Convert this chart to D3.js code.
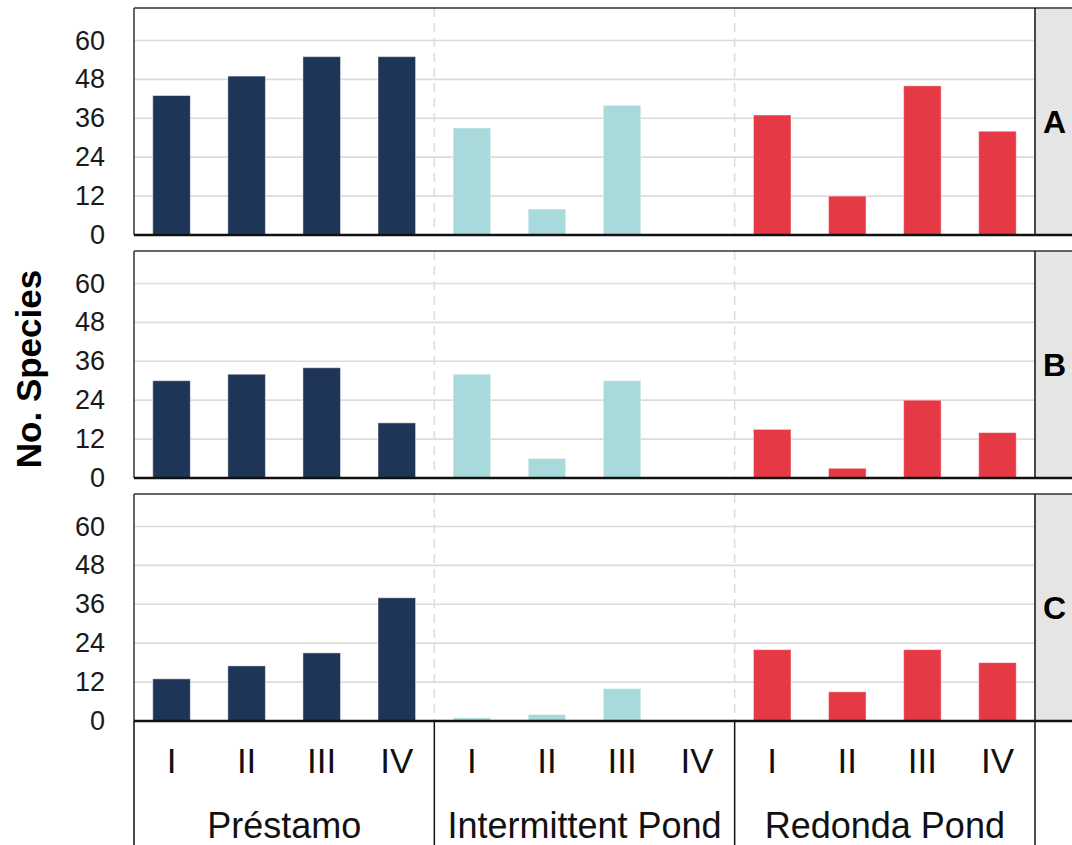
<!DOCTYPE html>
<html>
<head>
<meta charset="utf-8">
<script src="https://cdn.jsdelivr.net/npm/d3@7"></script>
<style>
  body { margin: 0; background: #fff; }
  svg { display: block; }
</style>
</head>
<body>
<div id="chart"></div>
<script>
// data
var sites = ["Préstamo", "Intermittent Pond", "Redonda Pond"];
var periods = ["I", "II", "III", "IV"];
var panels = ["A", "B", "C"];
var yTicks = [0, 12, 24, 36, 48, 60];

var valuesA = [43, 49, 55, 55, 33, 8, 40, 0, 37, 12, 46, 32];
var valuesB = [30, 32, 34, 17, 32, 6, 30, 0, 15, 3, 24, 14];
var valuesC = [13, 17, 21, 38, 1, 2, 10, 0, 22, 9, 22, 18];
var siteColors = ["#1f3557", "#a8dadc", "#e63946"];

var panelValues = [valuesA, valuesB, valuesC];

var W = 1072, H = 845;
var left = 134, right = 1035, stripW = 50;
var panelTop = [8, 251, 494];
var panelH = 227;
var font = "Liberation Sans, Arial, sans-serif";

var svg = d3.select("#chart").append("svg")
    .attr("width", W).attr("height", H);

// one key per bar
var keys = [];
sites.forEach(function(s, i){
    periods.forEach(function(p){ keys.push(i + "-" + p); });
});

var x = d3.scaleBand().domain(keys).range([left, right])
    .paddingInner(0.5).paddingOuter(0.25);
var step = x.step();

var groupEdges = [left, left + 4 * step, left + 8 * step, right];

panels.forEach(function(label, pi){
    var top = panelTop[pi], base = top + panelH;
    var y = d3.scaleLinear().domain([0, 70]).range([base, top]);
    var g = svg.append("g");

    // strip
    g.append("rect").attr("x", right).attr("y", top)
        .attr("width", stripW).attr("height", panelH)
        .attr("fill", "#e5e5e5");

    // grid
    g.selectAll(".grid").data(yTicks.slice(1)).enter().append("line")
        .attr("x1", left).attr("x2", right)
        .attr("y1", function(d){ return y(d); })
        .attr("y2", function(d){ return y(d); })
        .attr("stroke", "#dcdcdc").attr("stroke-width", 1.6);

    // dashed separators between sites
    g.selectAll(".sep").data([groupEdges[1], groupEdges[2]]).enter().append("line")
        .attr("x1", function(d){ return d; }).attr("x2", function(d){ return d; })
        .attr("y1", top).attr("y2", base)
        .attr("stroke", "#dddddd").attr("stroke-width", 1.5)
        .attr("stroke-dasharray", "9,6");

    // bars
    var vals = panelValues[pi];
    g.selectAll(".bar").data(vals).enter().append("rect")
        .attr("x", function(d, i){ return x(keys[i]); })
        .attr("width", x.bandwidth())
        .attr("y", function(d){ return y(d); })
        .attr("height", function(d){ return y(0) - y(d); })
        .attr("fill", function(d, i){ return siteColors[Math.floor(i / 4)]; })
        .attr("stroke", "rgba(255,255,255,0.45)").attr("stroke-width", 1);

    // y axis labels
    var yAxis = d3.axisLeft(y).tickValues(yTicks).tickSize(0).tickPadding(29);
    var ax = g.append("g").attr("transform", "translate(" + left + ",0)").call(yAxis);
    ax.select(".domain").remove();
    ax.selectAll("text")
        .attr("font-family", font)
        .attr("font-size", 27).attr("fill", "#1a1a1a");

    // frame
    g.append("line").attr("x1", left).attr("x2", W).attr("y1", top).attr("y2", top)
        .attr("stroke", "#333").attr("stroke-width", 1.5);
    g.append("line").attr("x1", left).attr("x2", left).attr("y1", top).attr("y2", base)
        .attr("stroke", "#333").attr("stroke-width", 1.5);
    g.append("line").attr("x1", right).attr("x2", right).attr("y1", top).attr("y2", base)
        .attr("stroke", "#111").attr("stroke-width", 1.5);
    g.append("line").attr("x1", left).attr("x2", W).attr("y1", base).attr("y2", base)
        .attr("stroke", "#111").attr("stroke-width", 2.5);

    // strip label
    g.append("text").attr("x", right + 8).attr("y", top + panelH / 2)
        .attr("dy", "0.36em")
        .attr("font-family", font)
        .attr("font-weight", "bold").attr("font-size", 32)
        .text(label);
});

// bottom category area
var bottomTop = panelTop[2] + panelH;
svg.selectAll(".edge").data(groupEdges).enter().append("line")
    .attr("x1", function(d){ return d; }).attr("x2", function(d){ return d; })
    .attr("y1", bottomTop).attr("y2", H)
    .attr("stroke", "#111").attr("stroke-width", 1.5);

svg.selectAll(".period").data(keys).enter().append("text")
    .attr("x", function(d){ return x(d) + x.bandwidth() / 2; })
    .attr("y", 773)
    .attr("text-anchor", "middle")
    .attr("font-family", font)
    .attr("font-size", 35).attr("fill", "#111")
    .text(function(d){ return d.split("-")[1]; });

svg.selectAll(".site").data(sites).enter().append("text")
    .attr("x", function(d, i){ return (groupEdges[i] + groupEdges[i + 1]) / 2; })
    .attr("y", 838)
    .attr("text-anchor", "middle")
    .attr("font-family", font)
    .attr("font-size", 36).attr("fill", "#111")
    .text(function(d){ return d; });

// y title
svg.append("text")
    .attr("transform", "translate(41,369) rotate(-90)")
    .attr("text-anchor", "middle")
    .attr("font-family", font)
    .attr("font-weight", "bold").attr("font-size", 35)
    .text("No. Species");
</script>
</body>
</html>
